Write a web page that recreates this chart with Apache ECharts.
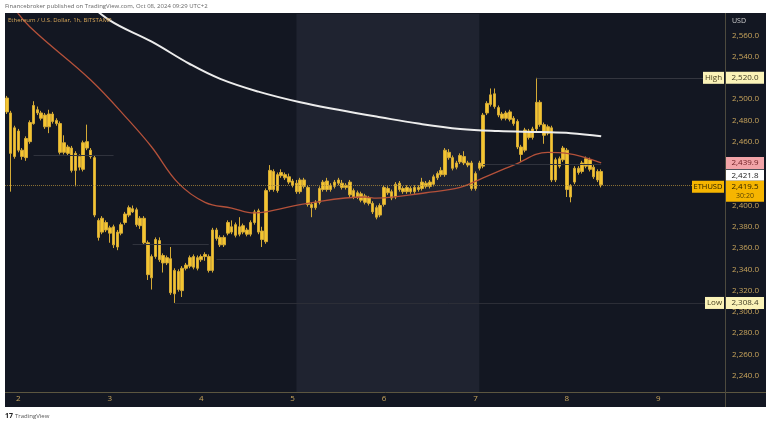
<!DOCTYPE html>
<html><head><meta charset="utf-8">
<script src="https://cdn.jsdelivr.net/npm/echarts@6.0.0/dist/echarts.min.js"></script>
<style>html,body{margin:0;padding:0;background:#fff;}#c{width:768px;height:425px;}</style>
</head><body><div id="c"></div><script>
// ---- data ----
const dayLabels = ['2','3','4','5','6','7','8','9'];
const firstDayIndex = 3;      // slot of Oct 2 00:00 (first candle = Oct 1 21:00)
const slotsPerDay = 24;
const totalSlots = 189;       // hourly slots across the visible time range
const weekendRange = [76, 124];
// [open, close, low, high]
const ohlc = [
[2501,2488,2486,2503],[2487,2449,2413,2489],[2446,2473,2444,2475],[2470,2452,2450,2472],[2452,2446,2443,2454],
[2445,2463,2442,2465],[2460,2478,2458,2480],[2477,2494,2476,2498],[2490,2487,2485,2493],[2487,2482,2480,2489],
[2485,2474,2472,2487],[2474,2486,2468,2490],[2486,2479,2477,2488],[2480,2477,2475,2482],[2477,2450,2448,2479],
[2450,2459,2448,2466],[2455,2449,2447,2457],[2454,2433,2431,2456],[2433,2449,2418,2451],[2446,2436,2433,2448],
[2434,2459,2432,2461],[2460,2454,2452,2476],[2452,2446,2444,2454],[2445,2391,2389,2447],[2386,2370,2367,2388],
[2375,2388,2373,2390],[2384,2377,2375,2386],[2379,2374,2365,2381],[2380,2363,2360,2382],[2361,2375,2358,2377],
[2374,2382,2372,2384],[2384,2392,2382,2394],[2391,2398,2389,2400],[2397,2394,2393,2400],[2396,2382,2380,2398],
[2381,2388,2378,2390],[2388,2365,2363,2390],[2365,2335,2330,2367],[2332,2352,2321,2354],[2352,2368,2350,2370],
[2367,2349,2347,2370],[2353,2346,2337,2355],[2346,2351,2344,2353],[2350,2318,2316,2361],[2317,2339,2308.4,2341],
[2338,2321,2319,2340],[2320,2341,2314,2343],[2341,2344,2339,2346],[2343,2351,2341,2353],[2352,2342,2340,2354],
[2341,2351,2339,2353],[2349,2352,2347,2354],[2352,2354,2348,2356],[2352,2339,2337,2354],[2339,2377,2337,2379],
[2377,2369,2367,2379],[2370,2363,2361,2372],[2363,2370,2361,2372],[2374,2384,2372,2386],[2380,2375,2373,2386],
[2382,2372,2370,2384],[2373,2380,2371,2389],[2381,2375,2373,2383],[2377,2373,2371,2379],[2373,2384,2371,2386],
[2384,2394,2382,2396],[2395,2375,2373,2397],[2376,2368,2361,2380],[2366,2414,2364,2416],[2415,2433,2413,2438],
[2432,2415,2413,2434],[2414,2429,2412,2431],[2428,2431,2426,2434],[2429,2426,2424,2431],[2427,2422,2420,2430],
[2423,2419,2417,2425],[2421,2413,2411,2424],[2413,2424,2411,2426],[2424,2418,2416,2426],[2417,2401,2399,2419],
[2401,2398,2389,2403],[2398,2403,2396,2405],[2403,2416,2401,2418],[2415,2422,2413,2424],[2423,2415,2413,2426],
[2415,2419,2413,2421],[2418,2422,2416,2424],[2421,2424,2419,2426],[2421,2417,2415,2424],[2417,2419,2415,2421],
[2422,2410,2408,2424],[2414,2408,2406,2416],[2408,2412,2406,2414],[2411,2405,2403,2413],[2409,2403,2401,2411],
[2407,2402,2400,2409],[2402,2394,2392,2404],[2398,2389,2387,2400],[2391,2400,2389,2402],[2401,2417,2399,2419],
[2416,2412,2410,2418],[2413,2407,2405,2415],[2408,2420,2406,2422],[2415,2421,2413,2423],[2416,2413,2411,2418],
[2413,2417,2411,2419],[2416,2413,2411,2418],[2413,2417,2411,2419],[2417,2415,2413,2419],[2416,2422,2414,2426],
[2421,2418,2416,2423],[2418,2422,2416,2424],[2420,2427,2418,2429],[2426,2430,2424,2432],[2429,2433,2427,2436],
[2429,2452,2427,2454],[2450,2445,2443,2453],[2445,2435,2433,2447],[2436,2440,2434,2442],[2441,2447,2439,2449],
[2446,2440,2438,2451],[2440,2438,2436,2442],[2440,2416,2414,2442],[2416,2430,2414,2432],[2435,2440,2433,2442],
[2437,2485,2435,2487],[2487,2496,2485,2498],[2495,2504,2493,2510],[2505,2493,2491,2510],[2492,2485,2483,2494],
[2486,2482,2480,2488],[2482,2487,2480,2489],[2488,2481,2479,2490],[2482,2477,2475,2484],[2479,2455,2453,2481],
[2455,2448,2441,2457],[2452,2471,2450,2473],[2470,2464,2462,2472],[2464,2472,2462,2474],[2472,2497,2470,2520],
[2497,2476,2474,2499],[2476,2466,2458,2478],[2468,2474,2466,2476],[2473,2424,2422,2475],[2424,2443,2422,2445],
[2444,2437,2435,2446],[2443,2454,2441,2456],[2452,2415,2408,2454],[2418,2408,2403,2420],[2422,2435,2420,2437],
[2435,2431,2429,2437],[2432,2440,2430,2442],[2437,2444,2435,2446],[2443,2434,2432,2445],[2436,2427,2425,2438],
[2432,2424,2422,2434],[2432,2419.5,2417,2434]
];
// moving averages read at sample points [slot, price]
const maWhite = [[20,2595],[27,2574],[38,2554],[48,2533],[56,2519],[66,2507],[77,2497],[87,2490],[98,2483],[108,2477],[119,2472],[129,2470],[140,2469],[148,2468],[156,2465]];
const maRed = [[1,2590],[6,2568],[22,2518],[32,2480],[38,2455],[45,2421],[52,2403],[59,2397.6],[65,2393],[68,2394],[79,2402],[94,2408],[97,2407],[110,2412],[119,2417],[125,2426],[133,2438],[142,2450],[147,2449],[156,2440]];
const yMin = 2220, yMax = 2580, yStep = 20;
const highPrice = 2520.0, lowPrice = 2308.4, maPrice = 2439.9, prevPrice = 2421.8, lastPrice = 2419.5;
const countdown = '30:20';
// short reference segments: [fromSlot, toSlot, price]
const segments = [[7,28,2447.5],[33,53,2363.8],[55,76,2349.7],[125,156,2439]];

// ---- chart ----
const categories = Array.from({length: totalSlots}, (_, i) => String(i));
const fmt = v => v.toLocaleString('en-US', {minimumFractionDigits: 1, maximumFractionDigits: 1});
const gold = '#c9a55c';
const chart = echarts.init(document.getElementById('c'), null, {renderer: 'canvas'});
const FONT = 'Open Sans';

const segStyle = {color: '#30333d', type: 'solid', width: 1};
const segLines = segments.map(s => [{coord: [String(s[0]), s[2]], lineStyle: segStyle}, {coord: [String(s[1]), s[2]]}]);

chart.setOption({
  backgroundColor: '#ffffff',
  animation: false,
  textStyle: {fontFamily: FONT},
  grid: {left: 5, right: 43, top: 14, bottom: 28},
  xAxis: {
    type: 'category', data: categories, boundaryGap: true, offset: -5,
    axisLine: {show: false}, axisTick: {show: false}, splitLine: {show: false},
    axisLabel: {
      color: gold, fontSize: 8, margin: 3, fontFamily: FONT,
      interval: (idx) => idx >= firstDayIndex && (idx - firstDayIndex) % slotsPerDay === 0,
      formatter: (v, idx) => dayLabels[(idx - firstDayIndex) / slotsPerDay] || ''
    }
  },
  yAxis: {
    type: 'value', position: 'right', min: yMin, max: yMax, interval: yStep, scale: true,
    axisLine: {show: false}, axisTick: {show: false}, splitLine: {show: false},
    axisLabel: {color: gold, fontSize: 8, margin: 7, fontFamily: FONT, showMinLabel: false, showMaxLabel: false, formatter: fmt}
  },
  series: [
    {
      type: 'line', data: categories.map(() => null), z: 1, silent: true, showSymbol: false,
      markArea: {silent: true, itemStyle: {color: '#1f2330'},
        data: [[{xAxis: String(weekendRange[0]), yAxis: 2224.7}, {xAxis: String(weekendRange[1]), yAxis: yMax}]]}
    },
    {
      type: 'candlestick', data: ohlc, z: 3, barWidth: 3,
      itemStyle: {color: '#f4c530', color0: '#f4c530', borderColor: '#d4aa36', borderColor0: '#d4aa36', borderWidth: 1},
      markLine: {
        silent: true, symbol: ['none', 'none'], label: {show: false},
        data: [
          {yAxis: lastPrice, lineStyle: {color: '#a8873a', type: 'dotted', width: 1, opacity: 0.8}},
          [{coord: [String(139), highPrice], lineStyle: {color: '#34363f', type: 'solid', width: 1}}, {coord: [String(totalSlots - 1), highPrice]}],
          [{coord: [String(44), lowPrice], lineStyle: {color: '#2c2e37', type: 'solid', width: 1}}, {coord: [String(totalSlots - 1), lowPrice]}],
          ...segLines
        ]
      }
    },
    {type: 'line', data: maRed, smooth: 0.4, showSymbol: false, z: 4, lineStyle: {color: '#b4513a', width: 1.3}},
    {type: 'line', data: maWhite, smooth: 0.4, showSymbol: false, z: 5, lineStyle: {color: '#ececec', width: 2}}
  ]
});

// ---- overlay labels positioned through the axis scale ----
const yOf = v => chart.convertToPixel({yAxisIndex: 0}, v);
const els = [];
els.push({type: 'rect', z: -10, shape: {x: 5, y: 13, width: 761, height: 394}, style: {fill: '#131722'}});
els.push({type: 'line', z: 20, shape: {x1: 5, y1: 392.5, x2: 766, y2: 392.5}, style: {stroke: '#5c5640', lineWidth: 1}});
els.push({type: 'line', z: 20, shape: {x1: 725.5, y1: 13, x2: 725.5, y2: 407}, style: {stroke: '#4d4a3e', lineWidth: 1}});
function box(x, y, w, h, fill, txt, col, size) {
  els.push({type: 'rect', z: 50, shape: {x: x, y: y, width: w, height: h}, style: {fill: fill}});
  if (txt) els.push({type: 'text', z: 51, x: x + w / 2, y: y + h / 2,
    style: {text: txt, fill: col, font: (size || 8) + 'px "' + FONT + '"', textAlign: 'center', textVerticalAlign: 'middle'}});
}
const yh = yOf(highPrice);
box(703, yh - 6, 21, 12, '#fbf3b8', 'High', '#4a4320');
box(726, yh - 6, 38, 12, '#fbf3b8', fmt(highPrice), '#3e3a22');
const ym = yOf(maPrice);
box(726, ym - 6, 38, 12, '#f2a4a8', fmt(maPrice), '#6a1a1e');
const yl = yOf(lastPrice);
box(726, yl - 15, 38, 11, '#ffffff', fmt(prevPrice), '#222');
box(726, yl - 4, 38, 21, '#f6b500', null);
els.push({type: 'text', z: 51, x: 745, y: yl + 2, style: {text: fmt(lastPrice), fill: '#2a2000', font: '8px "' + FONT + '"', textAlign: 'center', textVerticalAlign: 'middle'}});
els.push({type: 'text', z: 51, x: 745, y: yl + 11.5, style: {text: countdown, fill: '#5a4300', font: '7px "' + FONT + '"', textAlign: 'center', textVerticalAlign: 'middle'}});
box(692, yl - 4, 32, 12, '#f6b500', 'ETHUSD', '#2a2000', 7.5);
const ylo = yOf(lowPrice);
box(705, ylo - 6, 19, 12, '#fbf3b8', 'Low', '#4a4320');
box(726, ylo - 6, 38, 12, '#fbf3b8', fmt(lowPrice), '#3e3a22');
els.push({type: 'text', z: 51, x: 732, y: 21, style: {text: 'USD', fill: '#d0d0d0', font: '7px "' + FONT + '"', textVerticalAlign: 'middle'}});
els.push({type: 'text', z: 51, x: 5, y: 6, style: {text: 'Financebroker published on TradingView.com, Oct 08, 2024 09:29 UTC+2', fill: '#666', font: '6px "' + FONT + '"', textVerticalAlign: 'middle'}});
els.push({type: 'text', z: 51, x: 8, y: 20, style: {text: 'Ethereum / U.S. Dollar, 1h, BITSTAMP', fill: '#d9a85a', font: '6px "' + FONT + '"', textVerticalAlign: 'middle'}});
els.push({type: 'text', z: 51, x: 5, y: 416, style: {text: '17', fill: '#222', font: 'bold 7px "' + FONT + '"', textVerticalAlign: 'middle'}});
els.push({type: 'text', z: 51, x: 15, y: 416, style: {text: 'TradingView', fill: '#555', font: '6px "' + FONT + '"', textVerticalAlign: 'middle'}});
chart.setOption({graphic: {elements: els}});
</script></body></html>
